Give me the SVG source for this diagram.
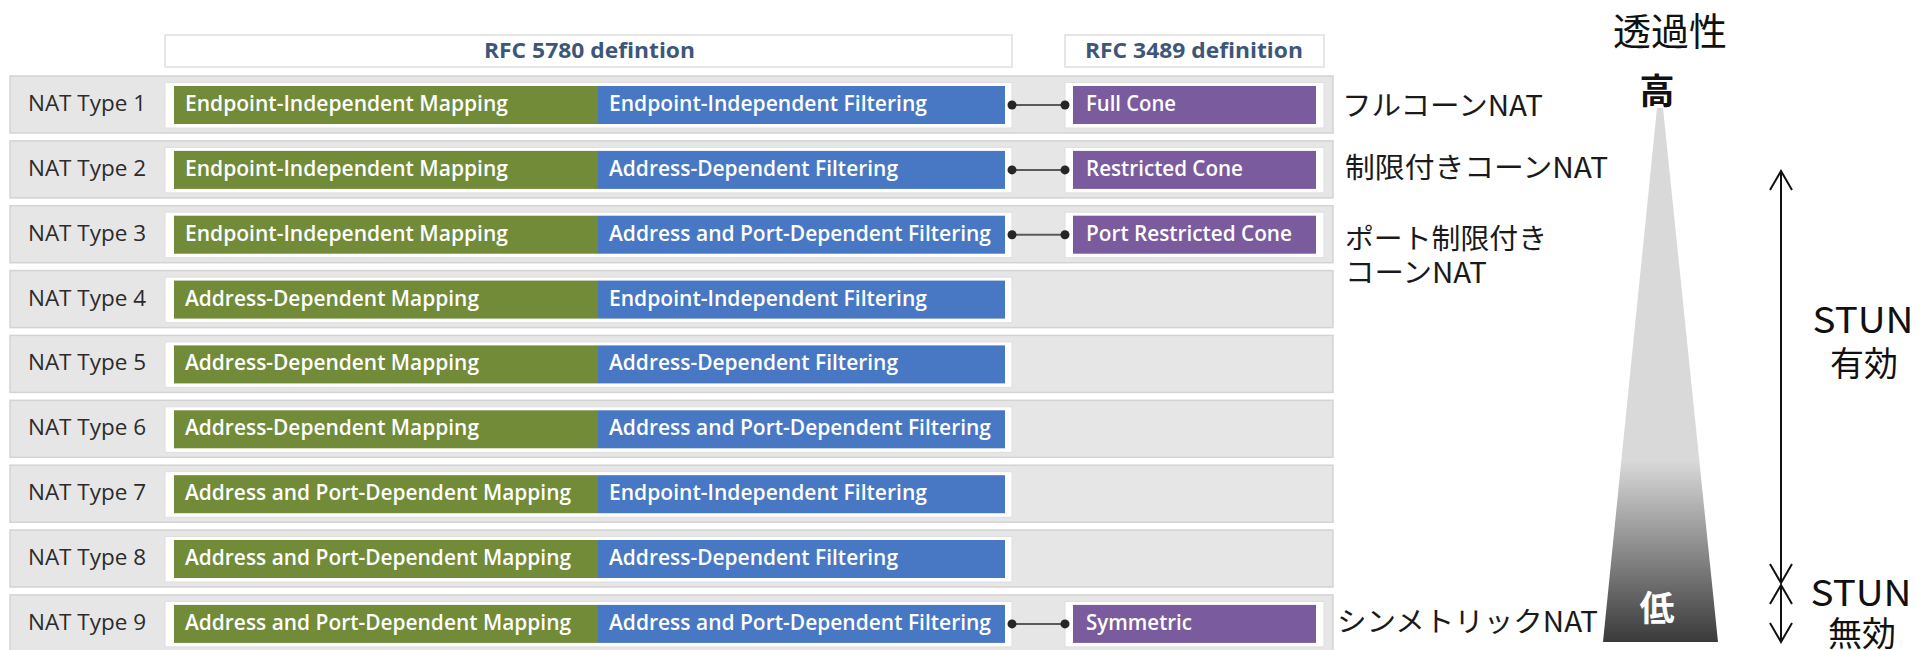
<svg xmlns="http://www.w3.org/2000/svg" width="1921" height="650" viewBox="0 0 1921 650">
<defs>
<style>
.row{fill:#e6e6e6;stroke:#d3d3d3;stroke-width:1.5}
.wbox{fill:#ffffff;stroke:#dedede;stroke-width:1}
.hbox{fill:#ffffff;stroke:#d6d6d6;stroke-width:1.2}
.green{fill:#718b38}
.blue{fill:#4878c3}
.purple{fill:#7a5b9d}
.lbl{font-family:"Open Sans","Liberation Sans",sans-serif;font-size:22px;fill:#2b2b2b}
.bt{font-family:"Open Sans","Liberation Sans",sans-serif;font-size:21px;font-weight:600;fill:#ffffff}
.ht{font-family:"Open Sans","Liberation Sans",sans-serif;font-size:21px;font-weight:700;fill:#3e5679}
.jp{font-family:"Noto Sans CJK JP","Noto Sans",sans-serif;font-size:28px;fill:#1a1a1a}
.big{font-family:"Noto Sans CJK JP","Noto Sans",sans-serif;fill:#111111}
.conn line{stroke:#5a5a5a;stroke-width:2}
.conn circle{fill:#262626}
.arr{stroke:#111111;stroke-width:2;fill:none}
</style>
<linearGradient id="tri" gradientUnits="userSpaceOnUse" x1="0" y1="108" x2="0" y2="642">
<stop offset="0" stop-color="#d9d9d9"/>
<stop offset="0.66" stop-color="#d9d9d9"/>
<stop offset="1" stop-color="#3a3a3a"/>
</linearGradient>
</defs>
<rect width="1921" height="650" fill="#ffffff"/>

<g id="header">
<rect class="hbox" x="165" y="35" width="847" height="32"/>
<text class="ht" x="484" y="58" textLength="211" lengthAdjust="spacingAndGlyphs">RFC 5780 defintion</text>
<rect class="hbox" x="1065" y="35" width="259" height="32"/>
<text class="ht" x="1085" y="58" textLength="218" lengthAdjust="spacingAndGlyphs">RFC 3489 definition</text>
</g>

<g id="nat1" transform="translate(0,76)">
<rect class="row" x="10" y="0" width="1323" height="57"/>
<text class="lbl" x="28" y="35" textLength="118" lengthAdjust="spacingAndGlyphs">NAT Type 1</text>
<rect class="wbox" x="165" y="6.5" width="847" height="45.5"/>
<rect class="green" x="174" y="10" width="424" height="38"/>
<text class="bt" x="185" y="35" textLength="323" lengthAdjust="spacingAndGlyphs">Endpoint-Independent Mapping</text>
<rect class="blue" x="598" y="10" width="407" height="38"/>
<text class="bt" x="609" y="35" textLength="318" lengthAdjust="spacingAndGlyphs">Endpoint-Independent Filtering</text>
<rect class="wbox" x="1065" y="6.5" width="259" height="45.5"/>
<rect class="purple" x="1073" y="10" width="243" height="38"/>
<text class="bt" x="1086" y="35" textLength="90" lengthAdjust="spacingAndGlyphs">Full Cone</text>
</g>

<g id="nat2" transform="translate(0,140.9)">
<rect class="row" x="10" y="0" width="1323" height="57"/>
<text class="lbl" x="28" y="35" textLength="118" lengthAdjust="spacingAndGlyphs">NAT Type 2</text>
<rect class="wbox" x="165" y="6.5" width="847" height="45.5"/>
<rect class="green" x="174" y="10" width="424" height="38"/>
<text class="bt" x="185" y="35" textLength="323" lengthAdjust="spacingAndGlyphs">Endpoint-Independent Mapping</text>
<rect class="blue" x="598" y="10" width="407" height="38"/>
<text class="bt" x="609" y="35" textLength="289" lengthAdjust="spacingAndGlyphs">Address-Dependent Filtering</text>
<rect class="wbox" x="1065" y="6.5" width="259" height="45.5"/>
<rect class="purple" x="1073" y="10" width="243" height="38"/>
<text class="bt" x="1086" y="35" textLength="157" lengthAdjust="spacingAndGlyphs">Restricted Cone</text>
</g>

<g id="nat3" transform="translate(0,205.7)">
<rect class="row" x="10" y="0" width="1323" height="57"/>
<text class="lbl" x="28" y="35" textLength="118" lengthAdjust="spacingAndGlyphs">NAT Type 3</text>
<rect class="wbox" x="165" y="6.5" width="847" height="45.5"/>
<rect class="green" x="174" y="10" width="424" height="38"/>
<text class="bt" x="185" y="35" textLength="323" lengthAdjust="spacingAndGlyphs">Endpoint-Independent Mapping</text>
<rect class="blue" x="598" y="10" width="407" height="38"/>
<text class="bt" x="609" y="35" textLength="382" lengthAdjust="spacingAndGlyphs">Address and Port-Dependent Filtering</text>
<rect class="wbox" x="1065" y="6.5" width="259" height="45.5"/>
<rect class="purple" x="1073" y="10" width="243" height="38"/>
<text class="bt" x="1086" y="35" textLength="206" lengthAdjust="spacingAndGlyphs">Port Restricted Cone</text>
</g>

<g id="nat4" transform="translate(0,270.6)">
<rect class="row" x="10" y="0" width="1323" height="57"/>
<text class="lbl" x="28" y="35" textLength="118" lengthAdjust="spacingAndGlyphs">NAT Type 4</text>
<rect class="wbox" x="165" y="6.5" width="847" height="45.5"/>
<rect class="green" x="174" y="10" width="424" height="38"/>
<text class="bt" x="185" y="35" textLength="294" lengthAdjust="spacingAndGlyphs">Address-Dependent Mapping</text>
<rect class="blue" x="598" y="10" width="407" height="38"/>
<text class="bt" x="609" y="35" textLength="318" lengthAdjust="spacingAndGlyphs">Endpoint-Independent Filtering</text>
</g>

<g id="nat5" transform="translate(0,335.4)">
<rect class="row" x="10" y="0" width="1323" height="57"/>
<text class="lbl" x="28" y="35" textLength="118" lengthAdjust="spacingAndGlyphs">NAT Type 5</text>
<rect class="wbox" x="165" y="6.5" width="847" height="45.5"/>
<rect class="green" x="174" y="10" width="424" height="38"/>
<text class="bt" x="185" y="35" textLength="294" lengthAdjust="spacingAndGlyphs">Address-Dependent Mapping</text>
<rect class="blue" x="598" y="10" width="407" height="38"/>
<text class="bt" x="609" y="35" textLength="289" lengthAdjust="spacingAndGlyphs">Address-Dependent Filtering</text>
</g>

<g id="nat6" transform="translate(0,400.3)">
<rect class="row" x="10" y="0" width="1323" height="57"/>
<text class="lbl" x="28" y="35" textLength="118" lengthAdjust="spacingAndGlyphs">NAT Type 6</text>
<rect class="wbox" x="165" y="6.5" width="847" height="45.5"/>
<rect class="green" x="174" y="10" width="424" height="38"/>
<text class="bt" x="185" y="35" textLength="294" lengthAdjust="spacingAndGlyphs">Address-Dependent Mapping</text>
<rect class="blue" x="598" y="10" width="407" height="38"/>
<text class="bt" x="609" y="35" textLength="382" lengthAdjust="spacingAndGlyphs">Address and Port-Dependent Filtering</text>
</g>

<g id="nat7" transform="translate(0,465.2)">
<rect class="row" x="10" y="0" width="1323" height="57"/>
<text class="lbl" x="28" y="35" textLength="118" lengthAdjust="spacingAndGlyphs">NAT Type 7</text>
<rect class="wbox" x="165" y="6.5" width="847" height="45.5"/>
<rect class="green" x="174" y="10" width="424" height="38"/>
<text class="bt" x="185" y="35" textLength="386" lengthAdjust="spacingAndGlyphs">Address and Port-Dependent Mapping</text>
<rect class="blue" x="598" y="10" width="407" height="38"/>
<text class="bt" x="609" y="35" textLength="318" lengthAdjust="spacingAndGlyphs">Endpoint-Independent Filtering</text>
</g>

<g id="nat8" transform="translate(0,530)">
<rect class="row" x="10" y="0" width="1323" height="57"/>
<text class="lbl" x="28" y="35" textLength="118" lengthAdjust="spacingAndGlyphs">NAT Type 8</text>
<rect class="wbox" x="165" y="6.5" width="847" height="45.5"/>
<rect class="green" x="174" y="10" width="424" height="38"/>
<text class="bt" x="185" y="35" textLength="386" lengthAdjust="spacingAndGlyphs">Address and Port-Dependent Mapping</text>
<rect class="blue" x="598" y="10" width="407" height="38"/>
<text class="bt" x="609" y="35" textLength="289" lengthAdjust="spacingAndGlyphs">Address-Dependent Filtering</text>
</g>

<g id="nat9" transform="translate(0,594.9)">
<rect class="row" x="10" y="0" width="1323" height="57"/>
<text class="lbl" x="28" y="35" textLength="118" lengthAdjust="spacingAndGlyphs">NAT Type 9</text>
<rect class="wbox" x="165" y="6.5" width="847" height="45.5"/>
<rect class="green" x="174" y="10" width="424" height="38"/>
<text class="bt" x="185" y="35" textLength="386" lengthAdjust="spacingAndGlyphs">Address and Port-Dependent Mapping</text>
<rect class="blue" x="598" y="10" width="407" height="38"/>
<text class="bt" x="609" y="35" textLength="382" lengthAdjust="spacingAndGlyphs">Address and Port-Dependent Filtering</text>
<rect class="wbox" x="1065" y="6.5" width="259" height="45.5"/>
<rect class="purple" x="1073" y="10" width="243" height="38"/>
<text class="bt" x="1086" y="35" textLength="106" lengthAdjust="spacingAndGlyphs">Symmetric</text>
</g>

<g id="connectors" class="conn">
<line x1="1012" y1="105" x2="1065" y2="105"/><circle cx="1012" cy="105" r="4.5"/><circle cx="1065" cy="105" r="4.5"/>
<line x1="1012" y1="169.9" x2="1065" y2="169.9"/><circle cx="1012" cy="169.9" r="4.5"/><circle cx="1065" cy="169.9" r="4.5"/>
<line x1="1012" y1="234.7" x2="1065" y2="234.7"/><circle cx="1012" cy="234.7" r="4.5"/><circle cx="1065" cy="234.7" r="4.5"/>
<line x1="1012" y1="623.9" x2="1065" y2="623.9"/><circle cx="1012" cy="623.9" r="4.5"/><circle cx="1065" cy="623.9" r="4.5"/>
</g>

<g id="jp-labels">
<text class="jp" x="1342" y="116" textLength="201" lengthAdjust="spacingAndGlyphs">フルコーンNAT</text>
<text class="jp" x="1345" y="178" textLength="263" lengthAdjust="spacingAndGlyphs">制限付きコーンNAT</text>
<text class="jp" x="1345" y="249" textLength="202" lengthAdjust="spacingAndGlyphs">ポート制限付き</text>
<text class="jp" x="1345" y="283" textLength="142" lengthAdjust="spacingAndGlyphs">コーンNAT</text>
<text class="jp" x="1337" y="632" textLength="261" lengthAdjust="spacingAndGlyphs">シンメトリックNAT</text>
</g>

<g id="transparency">
<polygon points="1657,108 1663,108 1718,642 1603,642" fill="url(#tri)"/>
<text class="big" x="1670" y="45" font-size="38" text-anchor="middle">透過性</text>
<text class="big" x="1657" y="104" font-size="35" font-weight="700" text-anchor="middle">高</text>
<text class="big" x="1657" y="621" font-size="35" font-weight="700" text-anchor="middle" style="fill:#ffffff">低</text>
</g>

<g id="stun">
<line class="arr" x1="1781" y1="172" x2="1781" y2="581"/>
<polyline class="arr" points="1770,190 1781,171 1792,190"/>
<polyline class="arr" points="1770,564 1781,583 1792,564"/>
<line class="arr" x1="1781" y1="586" x2="1781" y2="641"/>
<polyline class="arr" points="1770,604 1781,585 1792,604"/>
<polyline class="arr" points="1770,623 1781,642 1792,623"/>
<text class="big" x="1863" y="333" font-size="36" text-anchor="middle" textLength="101" lengthAdjust="spacingAndGlyphs">STUN</text>
<text class="big" x="1864" y="376" font-size="34" text-anchor="middle">有効</text>
<text class="big" x="1861" y="606" font-size="36" text-anchor="middle" textLength="101" lengthAdjust="spacingAndGlyphs">STUN</text>
<text class="big" x="1862" y="646" font-size="34" text-anchor="middle">無効</text>
</g>
</svg>
